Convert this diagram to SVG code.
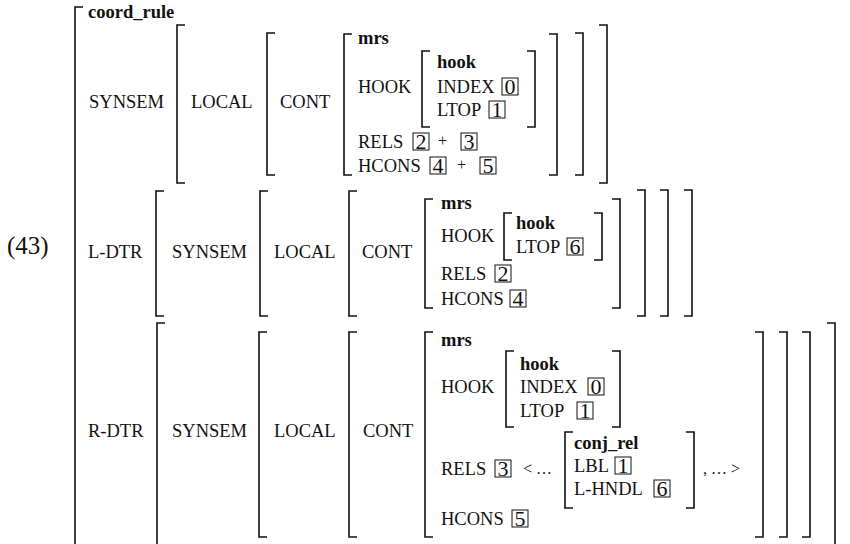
<svg xmlns="http://www.w3.org/2000/svg" width="850" height="544" viewBox="0 0 850 544">
<style>
text{font-family:"Liberation Serif","Times New Roman",serif;font-size:18.5px;fill:#111}
.t{font-weight:bold}
.n{font-size:22px;text-anchor:middle}
.s{font-size:16px}
.big{font-size:25px}
.br{fill:none;stroke:#111;stroke-width:1.6}
.bx{fill:none;stroke:#111;stroke-width:1}
</style>
<rect width="850" height="544" fill="#fff"/>
<text class="big" x="7" y="254">(43)</text>

<g id="outer">
<path class="br" d="M83 7H75V550"/>
<text class="t" x="88" y="18">coord_rule</text>
</g>

<g id="top-synsem">
<text x="89" y="108">SYNSEM</text>
<path class="br" d="M185 25H177V183H185"/>
<path class="br" d="M599 25H607V183H599"/>
<text x="191" y="108">LOCAL</text>
<path class="br" d="M275 33H267V175H275"/>
<path class="br" d="M575 33H583V175H575"/>
<text x="280" y="108">CONT</text>
<g id="top-mrs">
<path class="br" d="M352 34H344V175H352"/>
<path class="br" d="M549 34H557V175H549"/>
<text class="t" x="358" y="44">mrs</text>
<text x="358" y="93">HOOK</text>
<g id="top-hook">
<path class="br" d="M430 51H422V127H430"/>
<path class="br" d="M527 51H535V127H527"/>
<text class="t" x="437" y="68">hook</text>
<text x="437" y="93">INDEX</text>
<rect class="bx" x="502" y="78" width="16" height="17"/><text class="n" x="510" y="94">0</text>
<text x="437" y="116">LTOP</text>
<rect class="bx" x="489" y="101" width="16" height="17"/><text class="n" x="497" y="117">1</text>
</g>
<text x="358" y="148">RELS</text>
<rect class="bx" x="413" y="133" width="16" height="17"/><text class="n" x="421" y="149">2</text>
<text class="s" x="438" y="146">+</text>
<rect class="bx" x="461" y="133" width="16" height="17"/><text class="n" x="469" y="149">3</text>
<text x="358" y="172">HCONS</text>
<rect class="bx" x="430" y="157" width="16" height="17"/><text class="n" x="438" y="173">4</text>
<text class="s" x="457" y="170">+</text>
<rect class="bx" x="480" y="157" width="16" height="17"/><text class="n" x="488" y="173">5</text>
</g>
</g>

<g id="ldtr">
<text x="88" y="258">L-DTR</text>
<path class="br" d="M164 191H156V316H164"/>
<path class="br" d="M684 190H692V316H684"/>
<text x="172" y="258">SYNSEM</text>
<path class="br" d="M268 191H260V316H268"/>
<path class="br" d="M660 190H668V316H660"/>
<text x="274" y="258">LOCAL</text>
<path class="br" d="M357 191H349V316H357"/>
<path class="br" d="M637 190H645V316H637"/>
<text x="362" y="258">CONT</text>
<g id="mid-mrs">
<path class="br" d="M433 199H425V308H433"/>
<path class="br" d="M612 199H620V308H612"/>
<text class="t" x="441" y="209">mrs</text>
<text x="441" y="242">HOOK</text>
<g id="mid-hook">
<path class="br" d="M512 213H504V260H512"/>
<path class="br" d="M594 213H602V260H594"/>
<text class="t" x="516" y="229">hook</text>
<text x="516" y="253">LTOP</text>
<rect class="bx" x="567" y="238" width="16" height="17"/><text class="n" x="575" y="254">6</text>
</g>
<text x="441" y="280">RELS</text>
<rect class="bx" x="495" y="265" width="16" height="17"/><text class="n" x="503" y="281">2</text>
<text x="441" y="305">HCONS</text>
<rect class="bx" x="510" y="290" width="16" height="17"/><text class="n" x="518" y="306">4</text>
</g>
</g>

<g id="rdtr">
<text x="88" y="437">R-DTR</text>
<path class="br" d="M165 323H157V550"/>
<path class="br" d="M827 323H835V550"/>
<text x="172" y="437">SYNSEM</text>
<path class="br" d="M267 332H259V537H267"/>
<path class="br" d="M802 332H810V537H802"/>
<text x="274" y="437">LOCAL</text>
<path class="br" d="M357 332H349V537H357"/>
<path class="br" d="M779 332H787V537H779"/>
<text x="363" y="437">CONT</text>
<g id="bot-mrs">
<path class="br" d="M433 332H425V537H433"/>
<path class="br" d="M755 332H763V537H755"/>
<text class="t" x="441" y="346">mrs</text>
<text x="441" y="393">HOOK</text>
<g id="bot-hook">
<path class="br" d="M514 351H506V427H514"/>
<path class="br" d="M612 351H620V427H612"/>
<text class="t" x="520" y="370">hook</text>
<text x="520" y="393">INDEX</text>
<rect class="bx" x="588" y="378" width="16" height="17"/><text class="n" x="596" y="394">0</text>
<text x="520" y="417">LTOP</text>
<rect class="bx" x="577" y="402" width="16" height="17"/><text class="n" x="585" y="418">1</text>
</g>
<text x="441" y="475">RELS</text>
<rect class="bx" x="495" y="460" width="16" height="17"/><text class="n" x="503" y="476">3</text>
<text class="s" x="523" y="474">&lt; …</text>
<g id="conj-rel">
<path class="br" d="M573 432H565V508H573"/>
<path class="br" d="M686 432H694V508H686"/>
<text class="t" x="574" y="449">conj_rel</text>
<text x="574" y="472">LBL</text>
<rect class="bx" x="615" y="457" width="16" height="17"/><text class="n" x="623" y="473">1</text>
<text x="574" y="495">L-HNDL</text>
<rect class="bx" x="654" y="480" width="16" height="17"/><text class="n" x="662" y="496">6</text>
</g>
<text class="s" x="703" y="474">, … &gt;</text>
<text x="441" y="525">HCONS</text>
<rect class="bx" x="512" y="510" width="16" height="17"/><text class="n" x="520" y="526">5</text>
</g>
</g>
</svg>
